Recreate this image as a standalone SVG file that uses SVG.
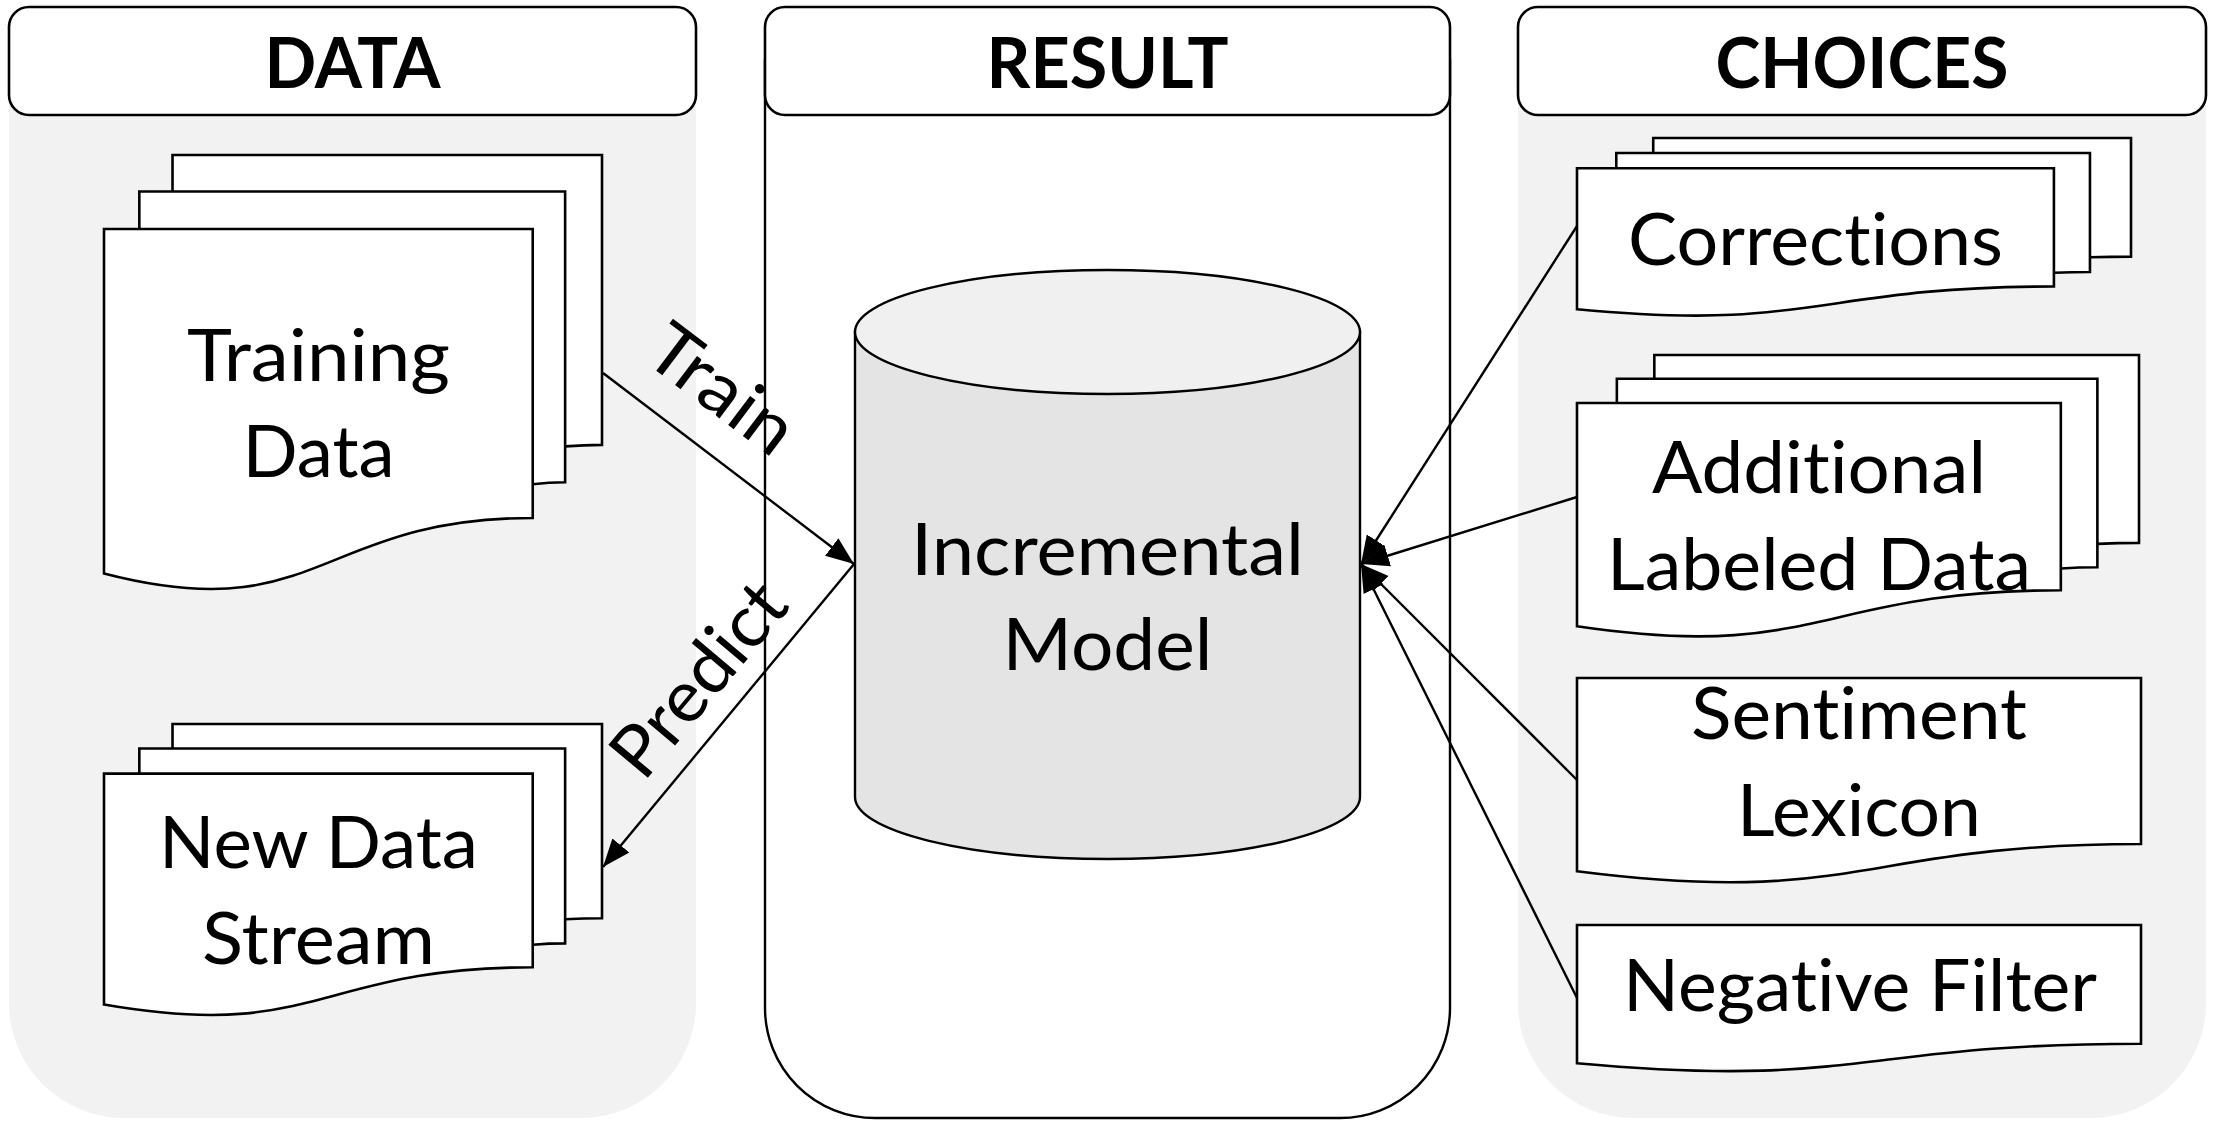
<svg xmlns="http://www.w3.org/2000/svg" width="2214" height="1121" viewBox="0 0 2214 1121">
  <style>
    .panel { fill: #f2f2f2; stroke: none; }
    .respanel { fill: #ffffff; stroke: #000; stroke-width: 2.4; }
    .header { fill: #ffffff; stroke: #000; stroke-width: 2.6; }
    .htext { font-family: Lato, "Open Sans", sans-serif; font-weight: bold; font-size: 70px; fill: #000; text-anchor: middle; font-variant-ligatures: none; }
    .doc { fill: #ffffff; stroke: #000; stroke-width: 2.6; vector-effect: non-scaling-stroke; stroke-linejoin: miter; }
    .label { font-family: Lato, "Open Sans", sans-serif; font-size: 72px; fill: #000; text-anchor: middle; font-variant-ligatures: none; font-feature-settings: "liga" 0, "dlig" 0, "clig" 0; }
    .conn { fill: none; stroke: #000; stroke-width: 2.4; }
  </style>
  <defs>
    <marker id="arrow" markerUnits="userSpaceOnUse" markerWidth="30" markerHeight="24" refX="28" refY="12" orient="auto">
      <path d="M0,1 L28,12 L0,23 Z" fill="#000"/>
    </marker>
  </defs>

  <!-- columns -->
  <g id="col-data">
    <path class="panel" d="M9,60 V1003 A115,115 0 0 0 124,1118 H581 A115,115 0 0 0 696,1003 V60 Z"/>
    <rect class="header" x="9" y="7" width="687" height="108" rx="20"/>
    <text class="htext" x="352.5" y="88" textLength="176" lengthAdjust="spacingAndGlyphs">DATA</text>
  </g>
  <g id="col-result">
    <path class="respanel" d="M765,60 V1008 A110,110 0 0 0 875,1118 H1340 A110,110 0 0 0 1450,1008 V60 Z"/>
    <rect class="header" x="765" y="7" width="685" height="108" rx="20"/>
    <text class="htext" x="1107.5" y="88" textLength="242" lengthAdjust="spacingAndGlyphs">RESULT</text>
  </g>
  <g id="col-choices">
    <path class="panel" d="M1518,60 V1003 A115,115 0 0 0 1633,1118 H2091 A115,115 0 0 0 2206,1003 V60 Z"/>
    <rect class="header" x="1518" y="7" width="688" height="108" rx="20"/>
    <text class="htext" x="1862" y="88" textLength="293" lengthAdjust="spacingAndGlyphs">CHOICES</text>
  </g>

  <!-- Training Data -->
  <g id="training-data">
    <g transform="translate(104,155) scale(0.023056,0.020139)">
      <path class="doc" d="M2972,0 H21600 V14392 C20800,14392 20000,14467 20000,14467 L2972,14467 Z"/>
      <path class="doc" d="M1532,1815 H20000 V16252 C19298,16252 18595,16352 18595,16352 L1532,16352 Z"/>
      <path class="doc" d="M0,3675 H18595 V18022 C9298,18022 9298,23542 0,20782 Z"/>
    </g>
    <text class="label" x="318.5" y="381" textLength="263" lengthAdjust="spacingAndGlyphs">Training</text>
    <text class="label" x="318.5" y="476.5" textLength="152" lengthAdjust="spacingAndGlyphs">Data</text>
  </g>

  <!-- New Data Stream -->
  <g id="new-data-stream">
    <g transform="translate(104,724) scale(0.023056,0.0135)">
      <path class="doc" d="M2972,0 H21600 V14392 C20800,14392 20000,14467 20000,14467 L2972,14467 Z"/>
      <path class="doc" d="M1532,1815 H20000 V16252 C19298,16252 18595,16352 18595,16352 L1532,16352 Z"/>
      <path class="doc" d="M0,3675 H18595 V18022 C9298,18022 9298,23542 0,20782 Z"/>
    </g>
    <text class="label" x="318.5" y="868" textLength="319" lengthAdjust="spacingAndGlyphs">New Data</text>
    <text class="label" x="318.5" y="963.5" textLength="233" lengthAdjust="spacingAndGlyphs">Stream</text>
  </g>

  <!-- Incremental Model -->
  <g id="incremental-model">
    <path d="M855,332 V797 A252.5,62 0 0 0 1360,797 V332 Z" fill="#e4e4e4" stroke="#000" stroke-width="2.4"/>
    <ellipse cx="1107.5" cy="332" rx="252.5" ry="62" fill="#f0f0f0" stroke="#000" stroke-width="2.4"/>
    <text class="label" x="1107.5" y="575" textLength="393" lengthAdjust="spacingAndGlyphs">Incremental</text>
    <text class="label" x="1107.5" y="670" textLength="210" lengthAdjust="spacingAndGlyphs">Model</text>
  </g>

  <!-- Corrections -->
  <g id="corrections">
    <g transform="translate(1577,138) scale(0.025648,0.008241)">
      <path class="doc" d="M2972,0 H21600 V14392 C20800,14392 20000,14467 20000,14467 L2972,14467 Z"/>
      <path class="doc" d="M1532,1815 H20000 V16252 C19298,16252 18595,16352 18595,16352 L1532,16352 Z"/>
      <path class="doc" d="M0,3675 H18595 V18022 C9298,18022 9298,23542 0,20782 Z"/>
    </g>
    <text class="label" x="1815.5" y="265" textLength="375" lengthAdjust="spacingAndGlyphs">Corrections</text>
  </g>

  <!-- Additional Labeled Data -->
  <g id="additional-labeled-data">
    <g transform="translate(1577,355) scale(0.026019,0.013056)">
      <path class="doc" d="M2972,0 H21600 V14392 C20800,14392 20000,14467 20000,14467 L2972,14467 Z"/>
      <path class="doc" d="M1532,1815 H20000 V16252 C19298,16252 18595,16352 18595,16352 L1532,16352 Z"/>
      <path class="doc" d="M0,3675 H18595 V18022 C9298,18022 9298,23542 0,20782 Z"/>
    </g>
    <text class="label" x="1819" y="493" textLength="334" lengthAdjust="spacingAndGlyphs">Additional</text>
    <text class="label" x="1819" y="590" textLength="424" lengthAdjust="spacingAndGlyphs">Labeled Data</text>
  </g>

  <!-- Sentiment Lexicon -->
  <g id="sentiment-lexicon">
    <path class="doc" transform="translate(1577,678) scale(0.026111,0.009583)" d="M0,0 H21600 V17322 C10800,17322 10800,23922 0,20172 Z"/>
    <text class="label" x="1859" y="739" textLength="336" lengthAdjust="spacingAndGlyphs">Sentiment</text>
    <text class="label" x="1859" y="836" textLength="244" lengthAdjust="spacingAndGlyphs">Lexicon</text>
  </g>

  <!-- Negative Filter -->
  <g id="negative-filter">
    <path class="doc" transform="translate(1577,925) scale(0.026111,0.006852)" d="M0,0 H21600 V17322 C10800,17322 10800,23922 0,20172 Z"/>
    <text class="label" x="1860" y="1011" textLength="474" lengthAdjust="spacingAndGlyphs">Negative Filter</text>
  </g>

  <!-- connectors -->
  <g id="connectors">
    <line class="conn" x1="603" y1="373" x2="854" y2="564" marker-end="url(#arrow)"/>
    <line class="conn" x1="854" y1="564" x2="603" y2="867" marker-end="url(#arrow)"/>
    <line class="conn" x1="1577" y1="226" x2="1361" y2="564" marker-end="url(#arrow)"/>
    <line class="conn" x1="1577" y1="497" x2="1361" y2="564" marker-end="url(#arrow)"/>
    <line class="conn" x1="1577" y1="780" x2="1361" y2="564" marker-end="url(#arrow)"/>
    <line class="conn" x1="1577" y1="998" x2="1361" y2="564" marker-end="url(#arrow)"/>
    <text class="label" x="707" y="409" transform="rotate(37 707 409)" textLength="165" lengthAdjust="spacingAndGlyphs">Train</text>
    <text class="label" x="717.5" y="695" transform="rotate(-50 717.5 695)" textLength="230" lengthAdjust="spacingAndGlyphs">Predict</text>
  </g>
</svg>
